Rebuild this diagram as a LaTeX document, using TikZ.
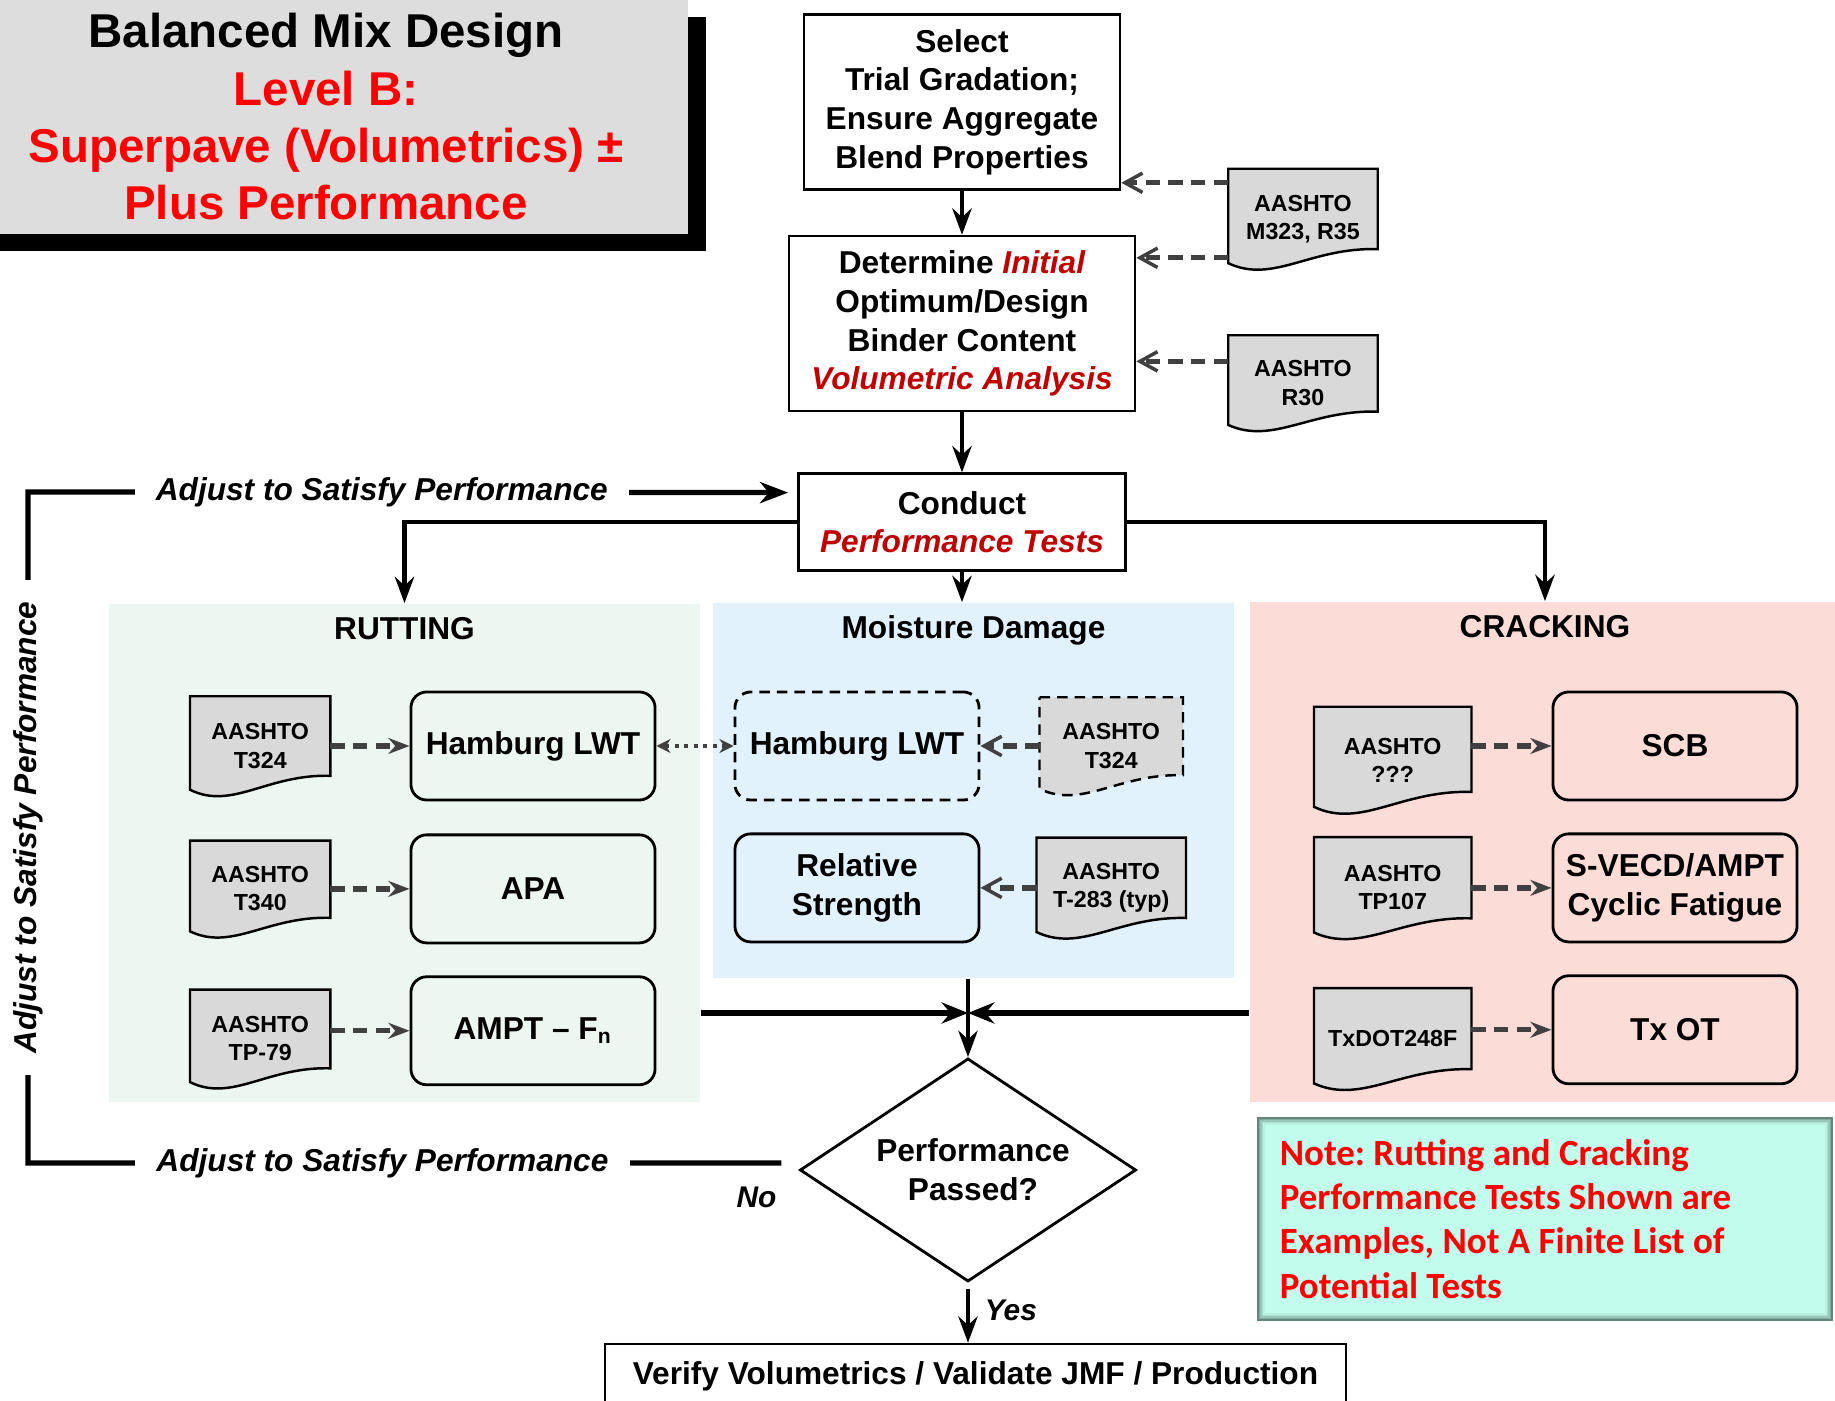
\documentclass[tikz,border=0pt]{standalone}
\usepackage{fontspec}
\setmainfont{Liberation Sans}
\newfontfamily\notefont{Carlito}
\usetikzlibrary{positioning,calc,arrows.meta,shapes.geometric,shadows,backgrounds}

% colours
\definecolor{titlegray}{RGB}{221,221,221}
\definecolor{darkred}{RGB}{192,0,0}
\definecolor{rutfill}{RGB}{237,247,241}
\definecolor{moistfill}{RGB}{225,242,253}
\definecolor{crackfill}{RGB}{252,220,215}
\definecolor{docgray}{RGB}{217,217,217}
\definecolor{linkgray}{RGB}{64,64,64}
\definecolor{notefill}{RGB}{194,252,236}
\definecolor{noteedge}{RGB}{100,135,125}

\newcommand\boxfont{\fontsize{9}{11}\selectfont\bfseries}
\newcommand\docfont{\fontsize{6.6}{8}\selectfont\bfseries}
\newcommand\emred[1]{\textcolor{darkred}{\itshape #1}}

\tikzset{
  stepbox/.style={draw, line width=0.7pt, align=center, font=\boxfont, inner sep=0pt},
  testbox/.style={draw, line width=0.8pt, rounded corners=4.5pt, align=center,
    font=\boxfont, minimum width=2.44cm, minimum height=1.08cm, inner sep=0pt},
  doc/.style 2 args={align=center, font=\docfont, inner sep=0pt,
    minimum width=#1, minimum height=#2},
  paper/.style={fill=docgray, draw=black, line width=0.7pt},
  broken/.style={dash pattern=on 3pt off 2pt},
  panel/.style={rectangle, inner sep=0pt},
}

\begin{document}
\begin{tikzpicture}[x=0.01cm, y=-0.01cm,
    flow/.style={line width=1.2pt, -{Stealth[length=7.5pt,width=5.5pt,inset=2.5pt]}},
    merge/.style={line width=1.5pt, -{Stealth[length=7.5pt,width=6pt,inset=2.5pt]}},
    feedback/.style={line width=1.5pt, -{Stealth[length=8pt,width=6pt,inset=2.5pt]}},
    refarrow/.style={linkgray, line width=1.5pt, dash pattern=on 4pt off 2.5pt,
      -{Stealth[length=6pt,width=4.5pt]}},
    refbarb/.style={linkgray, line width=1.5pt, dash pattern=on 4pt off 2.5pt,
      -{Straight Barb[length=5pt,width=5.5pt,line width=1pt]}},
    dotlink/.style={linkgray, line width=1.3pt, dash pattern=on 1.2pt off 1.5pt,
      {Stealth[length=4pt,width=4pt]}-{Stealth[length=4pt,width=4pt]}},
    adjust/.style={fill=white, font=\fontsize{9}{11}\selectfont\bfseries\itshape,
      inner xsep=6pt, inner ysep=1pt},
    answer/.style={font=\fontsize{8.5}{10}\selectfont\bfseries\itshape},
  ]
  \useasboundingbox (0,0) rectangle (1835,1401);

  % heading
  \node[fill=titlegray, minimum width=7.24cm, minimum height=2.34cm, align=center,
        font=\fontsize{13.5}{16.3}\selectfont\bfseries,
        general shadow={fill=black, shadow xshift=0.18cm, shadow yshift=-0.17cm}]
    (title) at (326,117) {Balanced Mix Design\\
      \textcolor{red}{Level B:}\\
      \textcolor{red}{Superpave (Volumetrics) ±}\\
      \textcolor{red}{Plus Performance}};

  % design steps
  \node[stepbox, minimum width=3.16cm, minimum height=1.75cm] (select) at (962,102)
    {Select\\Trial Gradation;\\Ensure Aggregate\\Blend Properties};
  \node[stepbox, minimum width=3.46cm, minimum height=1.75cm, below=0.44cm of select] (determine)
    {Determine \emred{Initial}\\Optimum/Design\\Binder Content\\\emred{Volumetric Analysis}};
  \node[stepbox, minimum width=3.27cm, minimum height=0.97cm, below=0.6cm of determine] (conduct)
    {Conduct\\\emred{Performance Tests}};

  \node[doc={1.48cm}{0.99cm}] (m323) at (1303,219) {AASHTO\\M323, R35};
  \node[doc={1.48cm}{0.94cm}] (r30) at (1303,383) {AASHTO\\R30};

  % test groups
  \begin{pgfonlayer}{background}
    \node[panel, fill=rutfill, minimum width=5.91cm, minimum height=4.98cm] (rut) at (404.5,853) {};
    \node[panel, fill=moistfill, minimum width=5.21cm, minimum height=3.75cm] (moist) at (973.5,790.5) {};
    \node[panel, fill=crackfill, minimum width=5.9cm, minimum height=5cm] (crack) at (1545,852) {};
  \end{pgfonlayer}
  \node[font=\boxfont, anchor=base] (ruttitle) at ($(rut.north)+(0,36)$) {RUTTING};
  \node[font=\boxfont, anchor=base] (moisttitle) at ($(moist.north)+(0,36)$) {Moisture Damage};
  \node[font=\boxfont, anchor=base] (cracktitle) at ($(crack.north)+(0,36)$) {CRACKING};

  % rutting
  \node[testbox] (rham) at (533,746) {Hamburg LWT};
  \node[testbox, below=0.32cm of rham] (rapa) {APA};
  \node[testbox, below=0.31cm of rapa] (rampt) {AMPT -- F\textsubscript{n}};
  \node[doc={1.39cm}{0.98cm}, left=0.79cm of rham] (rt324) {AASHTO\\T324};
  \node[doc={1.39cm}{0.95cm}, left=0.79cm of rapa] (rt340) {AASHTO\\T340};
  \node[doc={1.39cm}{0.97cm}, left=0.79cm of rampt, yshift=-0.08cm] (rtp79) {AASHTO\\TP-79};

  % moisture damage
  \node[testbox, broken] (mham) at (857,746) {Hamburg LWT};
  \node[doc={1.42cm}{0.96cm}, right=0.59cm of mham] (mt324) {AASHTO\\T324};
  \node[testbox, below=0.31cm of mham] (mrel) {Relative\\Strength};
  \node[doc={1.48cm}{0.99cm}, right=0.56cm of mrel] (mt283) {AASHTO\\T-283 (typ)};

  % cracking
  \node[testbox] (cscb) at (1675,746) {SCB};
  \node[testbox, below=0.31cm of cscb] (csvecd) {S-VECD/AMPT\\Cyclic Fatigue};
  \node[testbox, below=0.31cm of csvecd] (ctxot) {Tx OT};
  \node[doc={1.56cm}{1.05cm}, left=0.8cm of cscb, yshift=-0.14cm] (cq) {AASHTO\\???};
  \node[doc={1.56cm}{1.0cm}, left=0.8cm of csvecd] (ctp107) {AASHTO\\TP107};
  \node[doc={1.56cm}{1.0cm}, left=0.8cm of ctxot, yshift=-0.09cm] (ctx) {TxDOT248F};

  % paper outlines behind the spec names
  \begin{pgfonlayer}{background}
    \foreach \d/\look in {m323/solid, r30/solid, rt324/solid, rt340/solid, rtp79/solid,
                          mt324/broken, mt283/solid, cq/solid, ctp107/solid, ctx/solid}
      \filldraw[paper, \look] let \p1=(\d.north west), \p2=(\d.south east) in
        (\x1,\y1) -- (\x2,\y1) -- (\x2,{\y1+0.8*(\y2-\y1)})
        .. controls ({\x1+0.55*(\x2-\x1)},{\y1+0.78*(\y2-\y1)})
               and ({\x1+0.3*(\x2-\x1)},{\y1+1.15*(\y2-\y1)})
        .. (\x1,{\y1+0.94*(\y2-\y1)}) -- cycle;
  \end{pgfonlayer}

  % main flow
  \draw[flow] (select) -- (determine);
  \draw[flow] (determine) -- (conduct);
  \draw[flow] (conduct.west) -| (rut.north);
  \draw[flow] (conduct) -- (conduct.south |- moist.north);
  \draw[flow] (conduct.east) -| (crack.north);

  % specifications
  \coordinate (in1) at ($(select.south east)+(0,-8)$);
  \coordinate (in2) at ($(determine.north east)+(0,23)$);
  \coordinate (in3) at ($(determine.south east)+(0,-51)$);
  \draw[refbarb] (in1 -| m323.west) -- (in1);
  \draw[refbarb] (in2 -| m323.west) -- (in2);
  \draw[refbarb] (in3 -| r30.west) -- (in3);

  \foreach \d/\t in {rt324/rham, rt340/rapa, rtp79/rampt, cq/cscb, ctp107/csvecd, ctx/ctxot}
    \draw[refarrow] (\t.west -| \d.east) -- (\t.west);
  \foreach \d/\t in {mt324/mham, mt283/mrel}
    \draw[refbarb] (\t.east -| \d.west) -- (\t.east);
  \draw[dotlink] (rham) -- (mham);

  % results come together
  \node[diamond, draw, line width=0.8pt, aspect=1.5, minimum width=3.36cm, minimum height=2.23cm,
        inner sep=0pt, align=center, font=\boxfont] (check) at (968,1170)
        {\hspace{0.1cm}Performance\\\hspace{0.1cm}Passed?};
  \coordinate (join) at (968,1013);
  \draw[merge] (rut.east |- join) -- (join);
  \draw[merge] (crack.west |- join) -- (join);
  \draw[flow] (moist.south -| join) -- (check.north);

  % loop back
  \coordinate (lowleft) at (28,1163);
  \coordinate (upleft) at (28,492);
  \draw[feedback, shorten <=0.17cm, shorten >=0.09cm]
    ([yshift=0.07cm]check.west) -- (lowleft) node[adjust, pos=0.54] {Adjust to Satisfy Performance}
    -- (upleft) node[adjust, rotate=90, midway] {Adjust to Satisfy Performance}
    -- ([yshift=0.295cm]conduct.west) node[adjust, pos=0.46] {Adjust to Satisfy Performance};
  \node[answer] (no) at ($(check.west)+(-42,27)$) {No};

  % pass
  \node[stepbox, minimum width=7.41cm, minimum height=0.64cm] (verify) at (975.5,1376)
    {Verify Volumetrics / Validate JMF / Production};
  \draw[flow, shorten <=0.06cm] (check.south) -- (check.south |- verify.north)
    node[answer, pos=0.45, right=0.03cm] {Yes};

  % note
  \node[minimum width=5.74cm, minimum height=2.02cm, inner sep=0pt] (note) at (1545,1219) {};
  \foreach \k/\mix in {0/0, 1.5/30, 3/55, 4.5/75, 6/90, 8/100}
    \fill[notefill!\mix!noteedge] ($(note.north west)+(\k,\k)$) rectangle ($(note.south east)-(\k,\k)$);
  \node[font=\notefont\fontsize{10.5}{12.6}\selectfont\bfseries\frenchspacing, text=red,
        align=left, anchor=west, inner sep=0pt]
    (notetext) at ($(note.west)+(22,0)$)
    {Note: Rutting and Cracking\\Performance Tests Shown are\\Examples, Not A Finite List of\\Potential Tests};
\end{tikzpicture}
\end{document}
